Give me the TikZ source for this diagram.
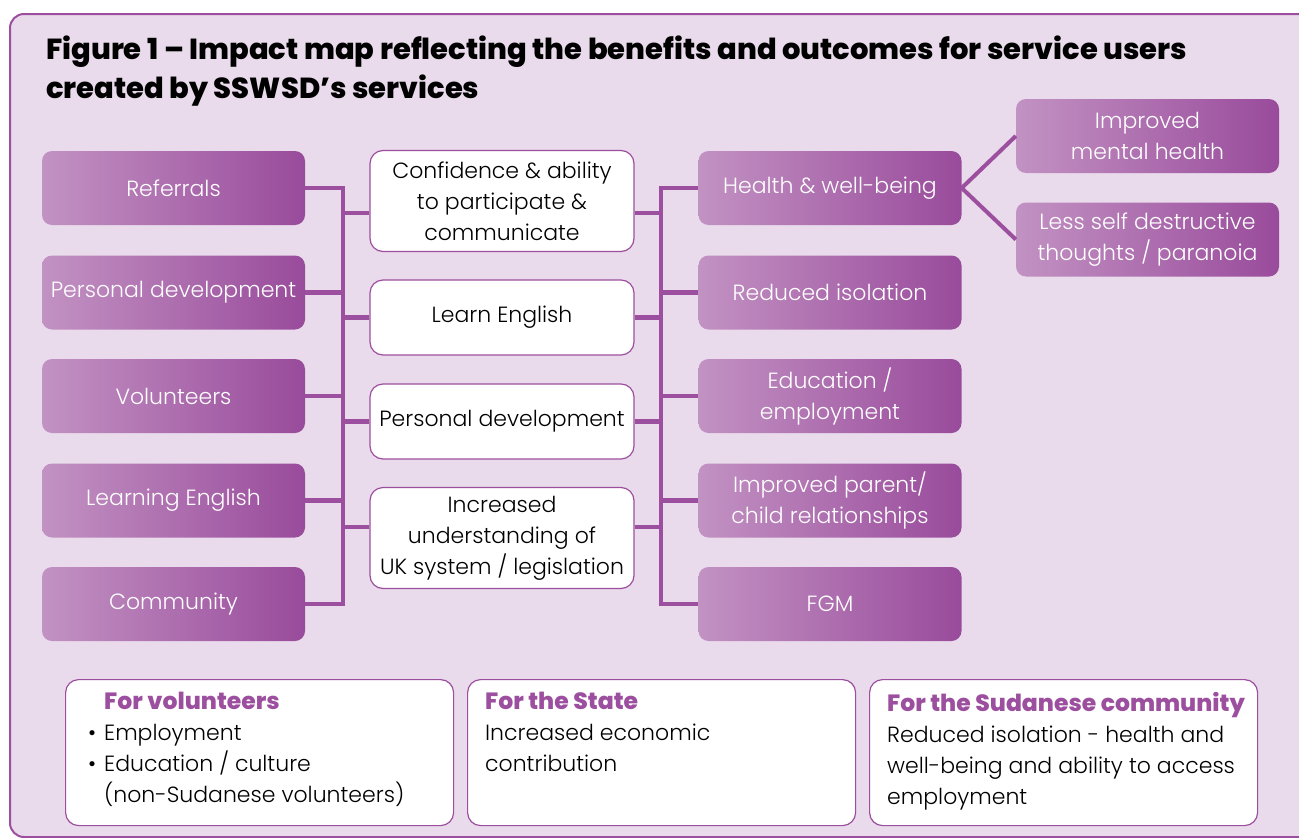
\documentclass[tikz,border=0pt]{standalone}
\usepackage{fontspec}
\setmainfont{Poppins}[UprightFont=*-Light,BoldFont=*-ExtraBold]
\usepackage{xcolor}
\usetikzlibrary{positioning}
\definecolor{bgpurple}{HTML}{E9DBEB}
\definecolor{framepurple}{HTML}{9D4F9F}
\definecolor{boxlight}{HTML}{C292C3}
\definecolor{boxdark}{HTML}{994B9B}

\begin{document}
\begin{tikzpicture}[
  x=1pt, y=-1pt,
  every node/.style={font=\fontsize{22}{31}\selectfont},
  outcome/.style={rounded corners=10pt, left color=boxlight, right color=boxdark,
                  text=white, minimum width=263pt, minimum height=74pt,
                  align=center, inner sep=0pt},
  change/.style={rounded corners=13pt, fill=white, draw=framepurple, line width=1.2pt,
                 minimum width=264pt, minimum height=75pt, align=center, inner sep=0pt},
  benefit/.style={rounded corners=13pt, fill=white, draw=framepurple, line width=1.2pt,
                  minimum width=388pt, minimum height=146pt, anchor=north west, inner sep=0pt},
  benefittext/.style={anchor=north west, align=left, inner sep=0pt},
  link/.style={draw=framepurple, line width=4.5pt}
]
\useasboundingbox (0,0) rectangle (1299,838);

% --- Frame and title ---
\draw[fill=bgpurple, draw=framepurple, line width=2pt, rounded corners=14pt]
  (10,14) rectangle (1340,837);
\node[anchor=north west, align=left, inner sep=0pt,
      font=\bfseries\fontsize{29}{39}\selectfont] (title) at (46,36)
  {Figure 1 -- Impact map reflecting the benefits and outcomes for service users\\
   created by SSWSD’s services};

% --- Inputs (left) ---
\node[outcome] (ref)  at (173.5,188) {Referrals};
\node[outcome] (pdev) at (173.5,292.5) {Personal development};
\node[outcome] (vol)  at (173.5,396) {Volunteers};
\node[outcome] (leng) at (173.5,500.5) {Learning English};
\node[outcome] (comm) at (173.5,604) {Community};

% --- Changes (middle) ---
\node[change, minimum height=101pt] (conf) at (502,201)
  {Confidence \& ability\\to participate \&\\communicate};
\node[change] (lren) at (502,317.5) {Learn English};
\node[change] (mdev) at (502,421.5) {Personal development};
\node[change, minimum height=101pt] (incr) at (502,538)
  {Increased\\understanding of\\UK system / legislation};

% --- Outcomes (right) ---
\node[outcome] (hlth) at (830,188) {Health \& well-being};
\node[outcome] (isol) at (830,292.5) {Reduced isolation};
\node[outcome] (educ) at (830,396) {Education /\\employment};
\node[outcome] (prnt) at (830,500.5) {Improved parent/\\child relationships};
\node[outcome] (fgm)  at (830,604) {FGM};

\node[outcome] (ment) at (1147.5,136) {Improved\\mental health};
\node[outcome] (dest) at (1147.5,239.5) {Less self destructive\\thoughts / paranoia};

% --- Connectors ---
\coordinate (lbar) at (343,0);
\coordinate (rbar) at (661,0);

\foreach \n in {ref,pdev,vol,leng,comm}
  \draw[link] (\n.east) -- (\n.east -| lbar);
\draw[link, line cap=rect] (ref.east -| lbar) -- (comm.east -| lbar);

\draw[link] ([yshift=-12pt]conf.west) -- ([yshift=-12pt]conf.west -| lbar);
\draw[link] (lren.west) -- (lren.west -| lbar);
\draw[link] (mdev.west) -- (mdev.west -| lbar);
\draw[link] ([yshift=11pt]incr.west) -- ([yshift=11pt]incr.west -| lbar);

\draw[link] ([yshift=-12pt]conf.east) -- ([yshift=-12pt]conf.east -| rbar);
\draw[link] (lren.east) -- (lren.east -| rbar);
\draw[link] (mdev.east) -- (mdev.east -| rbar);
\draw[link] ([yshift=11pt]incr.east) -- ([yshift=11pt]incr.east -| rbar);

\draw[link, line cap=rect] (hlth.west -| rbar) -- (fgm.west -| rbar);
\foreach \n in {hlth,isol,educ,prnt,fgm}
  \draw[link] (\n.west -| rbar) -- (\n.west);

\draw[link, line width=4pt] (hlth.east) -- (ment.west);
\draw[link, line width=4pt] (hlth.east) -- (dest.west);

% --- Benefits (bottom) ---
\node[benefit] (bvol) at (65,679) {};
\node[benefit] (bsta) at (467,679) {};
\node[benefit] (bsud) at (869,679) {};

\node[benefittext] (tvol) at ([xshift=39pt,yshift=-13pt]bvol.north west)
  {{\color{framepurple}\bfseries\fontsize{23.5}{31}\selectfont For volunteers}\\
   \llap{\textbullet\hspace{8pt}}Employment\\
   \llap{\textbullet\hspace{8pt}}Education / culture\\
   (non-Sudanese volunteers)};
\node[benefittext] (tsta) at ([xshift=18pt,yshift=-13pt]bsta.north west)
  {{\color{framepurple}\bfseries\fontsize{23.5}{31}\selectfont For the State}\\
   Increased economic\\
   contribution};
\node[benefittext] (tsud) at ([xshift=18pt,yshift=-13pt]bsud.north west)
  {{\color{framepurple}\bfseries\fontsize{23.5}{31}\selectfont For the Sudanese community}\\
   Reduced isolation - health and\\
   well-being and ability to access\\
   employment};

\end{tikzpicture}
\end{document}
